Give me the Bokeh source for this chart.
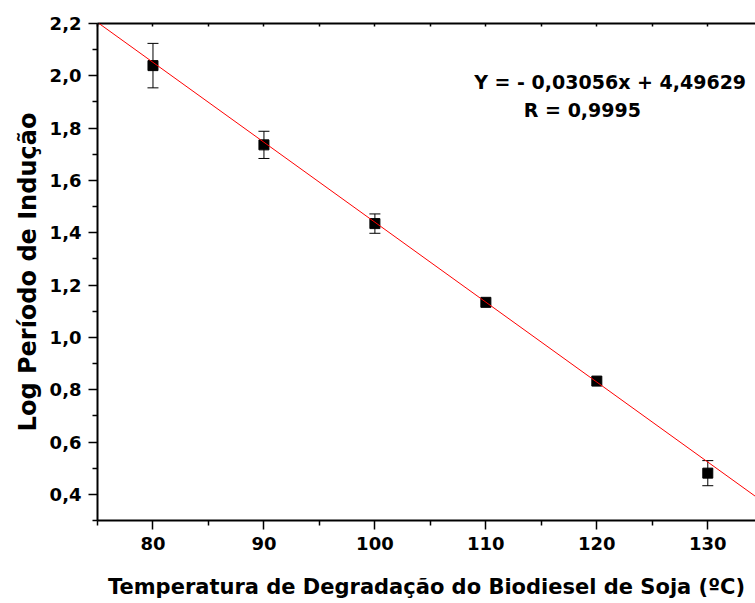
from bokeh.plotting import figure
from bokeh.models import (ColumnDataSource, Whisker, TeeHead, Slope, Label,
                          LinearAxis, FixedTicker, Range1d, CustomJSTickFormatter)
from bokeh.embed import file_html
from bokeh.resources import INLINE

# Degradation temperature (ºC) and log of the induction period
temps = [80, 90, 100, 110, 120, 130]
log_periodo = [2.039, 1.736, 1.435, 1.134, 0.833, 0.481]
erro = [0.085, 0.052, 0.037, 0.0, 0.0, 0.048]

# Linear fit reported on the chart
inclinacao = -0.03056
intercepto = 4.49629
texto_eq = "Y = - 0,03056x + 4,49629"
texto_r = "R = 0,9995"

x_major = [80, 90, 100, 110, 120, 130]
x_minor = [75, 85, 95, 105, 115, 125, 135]
y_major = [0.4, 0.6, 0.8, 1.0, 1.2, 1.4, 1.6, 1.8, 2.0, 2.2]
y_minor = [0.3, 0.5, 0.7, 0.9, 1.1, 1.3, 1.5, 1.7, 1.9, 2.1]

FONT = "DejaVu Sans"

p = figure(width=755, height=603,
           x_range=Range1d(75, 134.3), y_range=Range1d(0.3, 2.2),
           output_backend="svg", toolbar_location=None,
           min_border_left=97, min_border_right=0,
           min_border_top=23, min_border_bottom=83)
p.outline_line_color = None
p.xgrid.visible = False
p.ygrid.visible = False
p.background_fill_color = "white"
p.border_fill_color = "white"

# bottom axis
xa = p.xaxis[0]
xa.ticker = FixedTicker(ticks=x_major, minor_ticks=x_minor)
xa.axis_label = "Temperatura de Degradação do Biodiesel de Soja (ºC)"
xa.axis_label_standoff = 22

# left axis
ya = p.yaxis[0]
ya.ticker = FixedTicker(ticks=y_major, minor_ticks=y_minor)
ya.formatter = CustomJSTickFormatter(code="return tick.toFixed(1).replace('.', ',');")
ya.axis_label = "Log Período de Indução"
ya.axis_label_standoff = 5

for ax in (xa, ya):
    ax.axis_line_width = 2
    ax.axis_line_color = "black"
    ax.major_tick_line_width = 1.5
    ax.minor_tick_line_width = 1.5
    ax.major_tick_line_color = "black"
    ax.minor_tick_line_color = "black"
    ax.major_tick_out = 9
    ax.major_tick_in = 0
    ax.minor_tick_out = 5
    ax.minor_tick_in = 0
    ax.major_label_text_font = FONT
    ax.major_label_text_font_style = "bold"
    ax.major_label_text_font_size = "18px"
    ax.major_label_text_color = "black"
    ax.major_label_standoff = 7
    ax.axis_label_text_font = FONT
    ax.axis_label_text_font_style = "bold"
    ax.axis_label_text_color = "black"

xa.axis_label_text_font_size = "21px"
ya.axis_label_text_font_size = "24px"

# top axis: line and small inward ticks only
top = LinearAxis(ticker=FixedTicker(ticks=x_major, minor_ticks=x_minor),
                 formatter=CustomJSTickFormatter(code="return '';"),
                 axis_line_width=2, axis_line_color="black",
                 major_tick_in=3, major_tick_out=0,
                 minor_tick_in=3, minor_tick_out=0,
                 major_tick_line_width=1.5, minor_tick_line_width=1.5)
p.add_layout(top, "above")

# fitted straight line
p.add_layout(Slope(gradient=inclinacao, y_intercept=intercepto,
                   line_color="#ff0000", line_width=1))

# error bars (only where a spread was measured)
idx = [i for i, e in enumerate(erro) if e > 0]
src_err = ColumnDataSource(data=dict(
    x=[temps[i] for i in idx],
    lower=[log_periodo[i] - erro[i] for i in idx],
    upper=[log_periodo[i] + erro[i] for i in idx],
))
p.add_layout(Whisker(source=src_err, base="x", lower="lower", upper="upper",
                     line_color="black", line_width=1,
                     lower_head=TeeHead(size=11, line_color="black", line_width=1),
                     upper_head=TeeHead(size=11, line_color="black", line_width=1)))

# measured points
src = ColumnDataSource(data=dict(x=temps, y=log_periodo))
p.scatter("x", "y", source=src, marker="square", size=10,
          fill_color="black", line_color="black")

# equation of the fit
p.add_layout(Label(x=121.2, y=1.9745, text=texto_eq, text_align="center",
                   text_baseline="alphabetic", text_font=FONT,
                   text_font_style="bold", text_font_size="19px",
                   text_color="black"))
p.add_layout(Label(x=118.7, y=1.871, text=texto_r, text_align="center",
                   text_baseline="alphabetic", text_font=FONT,
                   text_font_style="bold", text_font_size="19px",
                   text_color="black"))

open("out.html", "w").write(file_html(p, INLINE))
